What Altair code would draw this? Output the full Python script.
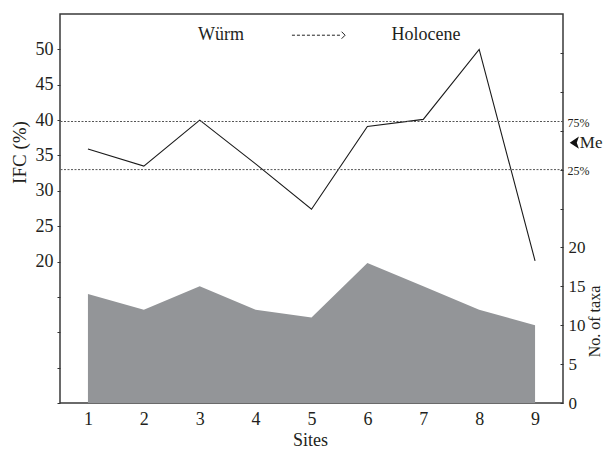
import altair as alt
import pandas as pd

# ---- data ----
sites = [1, 2, 3, 4, 5, 6, 7, 8, 9]
ifc = [35.9, 33.5, 40.0, 33.8, 27.4, 39.1, 40.1, 50.0, 20.1]
taxa = [14, 12, 15, 12, 11, 18, 15, 12, 10]

quartile_labels = ["75%", "25%"]
quartile_values = [39.8, 33.0]
quartile_label_x = [9.58, 9.58]
median_label = ["Me"]
median_value = [36.8]
median_arrow_x = [9.73]
median_text_x = [9.80]

period_labels = ["Würm", "Holocene"]
period_x = [3.38, 7.05]
period_y = [52.0, 52.0]
arrow_x_start = [4.65]
arrow_x_end = [5.52]
arrow_head_x = [5.57]
arrow_y = [52.0]

FONT = "Liberation Serif"
TXT = "#231f20"

df = pd.DataFrame({"site": sites, "ifc": ifc, "taxa": taxa})
dq = pd.DataFrame({"label": quartile_labels, "value": quartile_values, "site": quartile_label_x})
dm = pd.DataFrame({"label": median_label, "value": median_value,
                   "site": median_arrow_x, "tx": median_text_x})
dp = pd.DataFrame({"label": period_labels, "site": period_x, "y": period_y})
da = pd.DataFrame({"site": arrow_x_start, "x2": arrow_x_end, "y": arrow_y})
dh = pd.DataFrame({"site": arrow_head_x, "y": arrow_y})

xscale = alt.Scale(domain=[0.5, 9.5], nice=False, zero=False)
yl = alt.Scale(domain=[0, 55], nice=False)
yr = alt.Scale(domain=[0, 50], nice=False)

x_axis = alt.Axis(
    values=sites, ticks=False, tickSize=0, domain=False, grid=False,
    labelPadding=7, labelFontSize=18, labelFont=FONT, labelColor=TXT,
    titleFont=FONT, titleFontSize=18, titleFontWeight="normal", titleColor=TXT,
    titleX=250, titleY=42, titleBaseline="alphabetic", titleAlign="center",
)


def xenc(field):
    return alt.X(field, type="quantitative", scale=xscale, axis=x_axis, title="Sites")


left_axis = alt.Axis(
    orient="left", values=list(range(0, 55, 5)),
    labelExpr="datum.value >= 20 ? datum.label : ''",
    tickSize=3, tickColor="#333", labelPadding=4, domain=False, grid=False,
    labelFontSize=18, labelFont=FONT, labelColor=TXT,
    title="IFC (%)", titleFont=FONT, titleFontSize=19, titleFontWeight="normal",
    titleColor=TXT, titleAngle=270, titleX=-41, titleY=138,
    titleAlign="center", titleBaseline="middle",
)

right_axis = alt.Axis(
    orient="right", values=list(range(0, 50, 5)),
    labelExpr="datum.value <= 20 ? datum.label : ''",
    offset=-3, tickSize=3, tickColor="#333", labelPadding=5, domain=False, grid=False,
    labelFontSize=17, labelFont=FONT, labelColor=TXT,
    title="No. of taxa", titleFont=FONT, titleFontSize=16, titleFontWeight="normal",
    titleColor=TXT, titleAngle=270, titleX=39.8, titleY=307,
    titleAlign="center", titleBaseline="alphabetic",
)

area = alt.Chart(df).mark_area(color="#939598", opacity=1).encode(
    x=xenc("site"),
    y=alt.Y("taxa:Q", scale=yr, axis=right_axis),
)

line = alt.Chart(df).mark_line(color="#1a1a1a", strokeWidth=1.1).encode(
    x=xenc("site"),
    y=alt.Y("ifc:Q", scale=yl, axis=left_axis),
)

rules = alt.Chart(dq).mark_rule(color="#555", strokeWidth=1, strokeDash=[2, 1.5]).encode(
    y=alt.Y("value:Q", scale=yl, axis=None),
)

qtext = alt.Chart(dq).mark_text(
    align="left", baseline="middle", dy=1.5, font=FONT, fontSize=12, color=TXT
).encode(
    x=xenc("site"),
    y=alt.Y("value:Q", scale=yl, axis=None),
    text="label:N",
)

me_arrow = alt.Chart(dm).mark_point(
    shape="M-1,0L0.5,-1L0.15,0L0.5,1Z", filled=True, color="#111", size=150, opacity=1
).encode(
    x=xenc("site"),
    y=alt.Y("value:Q", scale=yl, axis=None),
)

me_text = alt.Chart(dm).mark_text(
    align="left", baseline="middle", font=FONT, fontSize=17, color=TXT
).encode(
    x=xenc("tx"),
    y=alt.Y("value:Q", scale=yl, axis=None),
    text="label:N",
)

periods = alt.Chart(dp).mark_text(
    align="center", baseline="middle", font=FONT, fontSize=18, color=TXT
).encode(
    x=xenc("site"),
    y=alt.Y("y:Q", scale=yl, axis=None),
    text="label:N",
)

arrow_line = alt.Chart(da).mark_rule(color="#222", strokeWidth=1, strokeDash=[3, 2]).encode(
    x=xenc("site"),
    x2="x2:Q",
    y=alt.Y("y:Q", scale=yl, axis=None),
)

arrow_head = alt.Chart(dh).mark_point(
    shape="M-0.5,-1L0.5,0L-0.5,1", filled=False, color="#222", size=49, strokeWidth=1, opacity=1
).encode(
    x=xenc("site"),
    y=alt.Y("y:Q", scale=yl, axis=None),
)

chart = alt.layer(
    area, line, rules, qtext, me_arrow, me_text, periods, arrow_line, arrow_head
).resolve_scale(y="independent").properties(
    width=503, height=389,
    autosize=alt.AutoSizeParams(type="none"),
    padding={"left": 52, "top": 6, "right": 41, "bottom": 45},
    background="white",
).configure_view(stroke="#3a3a3a", strokeWidth=1.5)

chart.save("out.html", embed_options={"renderer": "svg", "actions": False})
